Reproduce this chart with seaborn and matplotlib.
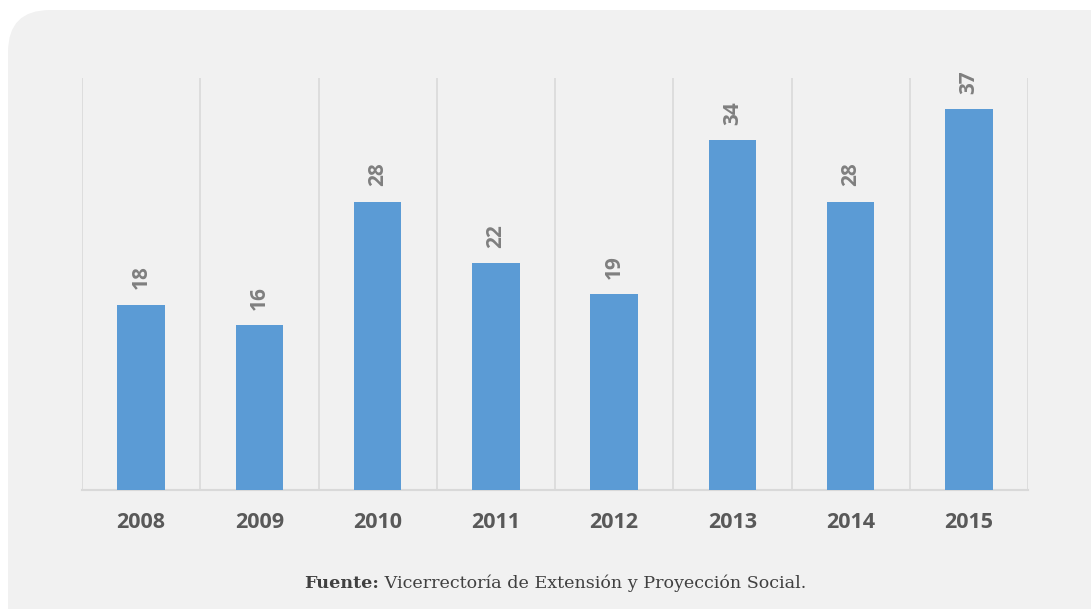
import matplotlib

matplotlib.use("Agg")
import matplotlib.pyplot as plt
from matplotlib.patches import FancyBboxPatch
from matplotlib.transforms import offset_copy
import pandas as pd
import seaborn as sns

# ── Data ─────────────────────────────────────────────
years = ["2008", "2009", "2010", "2011", "2012", "2013", "2014", "2015"]
counts = [18, 16, 28, 22, 19, 34, 28, 37]

df = pd.DataFrame({"year": years, "count": counts})

sns.set_style("white")
plt.rcParams["font.family"] = ["Open Sans", "DejaVu Sans"]

W, H = 1091, 609
fig = plt.figure(figsize=(W / 100, H / 100), dpi=100)
fig.patch.set_facecolor("white")

# background axes holding the rounded grey panel
bg = fig.add_axes([0, 0, 1, 1], zorder=-1)
bg.set_xlim(0, W)
bg.set_ylim(H, 0)
bg.axis("off")
bg.add_patch(FancyBboxPatch((8, 10), W + 40, H + 40,
                            boxstyle="round,pad=0,rounding_size=42",
                            facecolor="#f1f1f1", edgecolor="none"))

ax = fig.add_axes([82 / W, 1 - 490 / H, (1028 - 82) / W, (490 - 78) / H])
ax.set_facecolor("none")

sns.barplot(data=df, x="year", y="count", color="#5b9bd5", width=0.4,
            saturation=1, linewidth=0, ax=ax, zorder=3)

ax.set_ylim(0, 40)
ax.set_xlim(-0.5, len(years) - 0.5)
ax.set_yticks([])
ax.set_xlabel("")
ax.set_ylabel("")

# vertical category separators
for i in range(len(years) + 1):
    ax.axvline(i - 0.5, color="#d9d9d9", linewidth=1.2, zorder=1)

for s in ["top", "left", "right"]:
    ax.spines[s].set_visible(False)
ax.spines["bottom"].set_color("#d9d9d9")
ax.spines["bottom"].set_linewidth(1.5)

ax.tick_params(axis="x", length=0, pad=15.5)
for lbl in ax.get_xticklabels():
    lbl.set_fontsize(15.5)
    lbl.set_fontweight("bold")
    lbl.set_color("#595959")

for i, v in enumerate(counts):
    ax.annotate(str(v), (i, v), xytext=(0, 11), textcoords="offset points",
                rotation=90, ha="center", va="bottom", fontsize=15,
                fontweight="bold", color="#7f7f7f")

# footer: bold "Fuente:" followed by regular text
t1 = bg.text(304, 583, "Fuente:", family="DejaVu Serif",
             fontweight="bold", fontsize=12.6, color="#404040",
             va="center", ha="left")
fig.canvas.draw()
ext = t1.get_window_extent()
bg.text(0, 583, " Vicerrectoría de Extensión y Proyección Social.",
        family="DejaVu Serif", fontsize=12.6, color="#404040",
        va="center", ha="left",
        transform=offset_copy(bg.transData, fig=fig, x=ext.x1 - bg.transData.transform((0, 0))[0],
                              y=0, units="dots"))

fig.savefig("out.png", dpi=100, facecolor=fig.get_facecolor())
